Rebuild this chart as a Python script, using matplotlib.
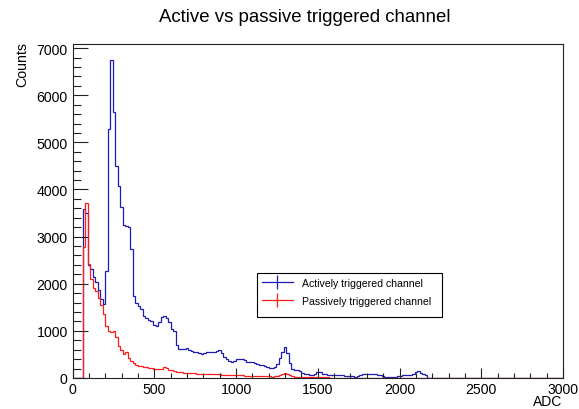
import numpy as np
import matplotlib
matplotlib.use("Agg")
import matplotlib.pyplot as plt
from matplotlib.lines import Line2D
from matplotlib.patches import Rectangle
from matplotlib.ticker import MultipleLocator

plt.rcParams['font.family'] = ['Liberation Sans', 'DejaVu Sans']

# Histogram binning (ADC range split into equal bins)
n_bins = 195
adc_min, adc_max = 0, 3000
first_bin = 4  # index of the first filled bin

# Bin contents, starting at first_bin
active_counts = [
    3590, 3510, 2400, 2310, 2150, 2030, 1870, 1680, 1560, 2260,
    5280, 6750, 5640, 4500, 4080, 3620, 3250, 3230, 3200, 2740,
    1750, 1600, 1530, 1460, 1320, 1280, 1240, 1200, 1130, 1100,
    1180, 1290, 1320, 1280, 1180, 1040, 1000, 700, 620, 615,
    620, 630, 600, 580, 550, 545, 520, 500, 540, 550,
    560, 555, 560, 570, 590, 540, 440, 400, 370, 340,
    370, 400, 410, 400, 380, 350, 340, 330, 320, 300,
    280, 270, 260, 240, 220, 210, 230, 300, 420, 560,
    660, 540, 320, 200, 170, 160, 140, 110, 90, 80,
    70, 70, 75, 130, 120, 90, 80, 70, 70, 60,
    60, 55, 55, 55, 50, 45, 40, 35, 30, 50,
    70, 80, 85, 85, 80, 85, 75, 70, 60, 40,
    25, 20, 20, 20, 25, 40, 50, 55, 55, 60,
    70, 90, 120, 140, 100, 80, 60,
]
passive_counts = [
    2790, 3720, 2420, 2100, 1920, 1850, 1700, 1550, 1360, 1100,
    1000, 980, 990, 880, 680, 590, 510, 560, 420, 370,
    310, 270, 255, 245, 235, 226, 220, 205, 200, 195,
    190, 195, 230, 215, 180, 160, 150, 125, 120, 120,
    115, 110, 105, 100, 100, 95, 90, 90, 85, 85,
    80, 85, 80, 80, 75, 70, 65, 65, 65, 60,
    60, 55, 55, 55, 50, 50, 45, 45, 45, 40,
    40, 40, 35, 35, 35, 30, 35, 40, 60, 80,
    100, 90, 60, 40, 30, 25, 25, 22, 20, 20,
    18, 18, 16, 15, 15, 14, 12, 12, 10, 10,
    10, 8, 8, 8, 6, 6, 6, 5, 5, 5,
    4, 4, 4, 3, 3, 3, 3, 2, 2, 2,
    2, 2, 1, 1, 1, 1, 1,
]

title = "Active vs passive triggered channel"
x_label = "ADC"
y_label = "Counts"
legend_labels = ["Actively triggered channel", "Passively triggered channel"]

blue = "#1c1cb4"
red = "#ff1a1a"

edges = np.linspace(adc_min, adc_max, n_bins + 1)
active = np.zeros(n_bins)
active[first_bin:first_bin + len(active_counts)] = active_counts
passive = np.zeros(n_bins)
passive[first_bin:first_bin + len(passive_counts)] = passive_counts

W, H = 579, 410
fig = plt.figure(figsize=(W / 100, H / 100), dpi=100)
left, right, top, bottom = 72.5, 563, 45, 379
ax = fig.add_axes([left / W, 1 - bottom / H, (right - left) / W, (bottom - top) / H])

ax.stairs(active, edges, color=blue, lw=0.9, baseline=0)
ax.stairs(passive, edges, color=red, lw=0.9, baseline=0)

ax.set_xlim(adc_min, adc_max)
ax.set_ylim(0, 1.05 * max(active.max(), passive.max()))

ax.xaxis.set_major_locator(MultipleLocator(500))
ax.xaxis.set_minor_locator(MultipleLocator(100))
ax.yaxis.set_major_locator(MultipleLocator(1000))
ax.yaxis.set_minor_locator(MultipleLocator(200))

ax.tick_params(axis='both', which='both', direction='in', top=False, right=False,
               width=0.8, colors='#222222', labelcolor='black', labelsize=10.2)
ax.tick_params(axis='x', which='major', length=7.2, pad=3)
ax.tick_params(axis='x', which='minor', length=3.6)
ax.tick_params(axis='y', which='major', length=10.8, pad=3.5)
ax.tick_params(axis='y', which='minor', length=5.4)
for s in ax.spines.values():
    s.set_linewidth(0.8)
    s.set_color('#222222')

fig.text(305 / W, 1 - 18 / H, title, ha='center', va='center', fontsize=13.4)
fig.text(562 / W, 1 - 409 / H, x_label, ha='right', va='bottom', fontsize=10)
fig.text(22 / W, 1 - 42 / H, y_label, ha='center', va='top', rotation=90, fontsize=10.2)

# Legend box
fig.patches.append(Rectangle((257 / W, 1 - 318 / H), (442 - 257) / W, (318 - 274) / H,
                             transform=fig.transFigure, facecolor='white',
                             edgecolor='black', lw=0.8, zorder=5))
handles = [Line2D([], [], color=c, lw=0.9, marker='|', markersize=10,
                  markeredgewidth=0.9) for c in (blue, red)]
leg = fig.legend(handles, legend_labels, loc='upper left',
                 bbox_to_anchor=(259 / W, 1 - 275.5 / H), frameon=False,
                 fontsize=7.6, handlelength=2.9, handletextpad=0.85,
                 labelspacing=0.8, borderpad=0.3, numpoints=1, borderaxespad=0)
leg.set_zorder(6)

fig.savefig("out.png", dpi=100)
